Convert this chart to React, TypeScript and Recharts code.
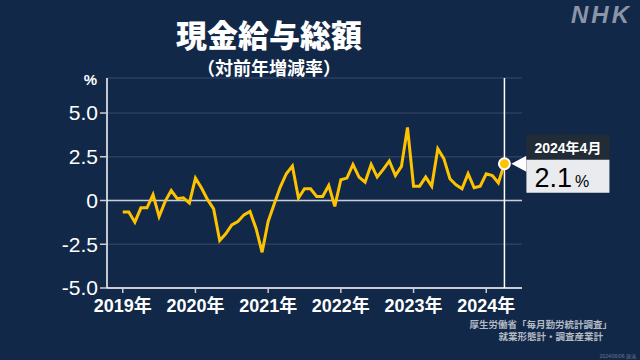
import { LineChart, Line, XAxis, YAxis, CartesianGrid, ReferenceLine, ReferenceDot } from 'recharts'

const yearLabels = ['2019年', '2020年', '2021年', '2022年', '2023年', '2024年']
const yearTicks = [0, 12, 24, 36, 48, 60]
const yTicks = [-5, -2.5, 0, 2.5, 5]

// 現金給与総額 対前年増減率 (%), 2019年1月〜2024年4月
const values = [
  -0.66, -0.66, -1.24, -0.42, -0.42, 0.34, -0.92, -0.05, 0.57, 0.1, 0.15, -0.15,
  1.28, 0.71, 0.05, -0.48, -2.29, -1.9, -1.39, -1.2, -0.82, -0.63, -1.6, -2.96,
  -1.2, -0.2, 0.77, 1.53, 1.97, 0.14, 0.67, 0.67, 0.23, 0.23, 0.86, -0.34,
  1.19, 1.28, 2.06, 1.34, 1.05, 2.06, 1.34, 1.78, 2.26, 1.43, 1.95, 4.17,
  0.82, 0.82, 1.34, 0.82, 2.96, 2.39, 1.24, 0.9, 0.67, 1.53, 0.73, 0.82,
  1.53, 1.43, 1.01, 2.1,
]
const latestLabel = '2024年4月'

const data = values.map((v, i) => ({ i, v }))
const last = data[data.length - 1]

const BG = '#122848'
const GOLD = '#FDC300'
const FONT = "'Liberation Sans', 'Noto Sans CJK JP', sans-serif"

const Callout = (props: any) => {
  const { cx, cy } = props
  const bx = cx + 22
  const w = 83
  return (
    <g>
      <polygon points={`${cx + 7},${cy} ${bx},${cy - 8} ${bx},${cy + 8}`} fill="#ffffff" />
      <rect x={bx} y={cy - 29} width={w} height={25} fill="#222c37" />
      <rect x={bx} y={cy - 4} width={w} height={33} fill="#e9ebef" />
      <text x={bx + w / 2} y={cy - 11} textAnchor="middle" fill="#fff" fontSize={14} fontWeight={700} fontFamily={FONT}>
        {latestLabel}
      </text>
      <text x={bx + 8} y={cy + 23} fill="#000" fontFamily={FONT}>
        <tspan fontSize={27}>{last.v.toFixed(1)}</tspan>
        <tspan fontSize={16} dx={3}>%</tspan>
      </text>
      <circle cx={cx} cy={cy} r={5.5} fill={GOLD} stroke="#ffffff" strokeWidth={2} />
    </g>
  )
}

export default function App() {
  return (
    <div style={{ position: 'fixed', left: 0, top: 0, width: 640, height: 360, background: BG, fontFamily: FONT, overflow: 'hidden' }}>
      <div style={{ position: 'absolute', left: 0, width: 538, top: 18, textAlign: 'center', color: '#fff', fontSize: 31, fontWeight: 900, lineHeight: '38px' }}>
        現金給与総額
      </div>
      <div style={{ position: 'absolute', left: 0, width: 538, top: 57, textAlign: 'center', color: '#fff', fontSize: 18, fontWeight: 700, lineHeight: '24px' }}>
        （対前年増減率）
      </div>
      <div style={{ position: 'absolute', right: 8, top: 1, color: '#8a95a8', fontSize: 24, fontWeight: 900, fontStyle: 'italic', letterSpacing: 3 }}>
        NHK
      </div>
      <div style={{ position: 'absolute', right: 543, top: 71, color: '#fff', fontSize: 15, fontWeight: 700 }}>%</div>
      <div style={{ position: 'absolute', right: 28, top: 319, color: '#b4bac4', fontSize: 9.5, fontWeight: 700, lineHeight: '12px', textAlign: 'right' }}>
        <div>厚生労働省「毎月勤労統計調査」</div>
        <div style={{ marginRight: 9 }}>就業形態計・調査産業計</div>
      </div>
      <div style={{ position: 'absolute', right: 4, top: 352, color: '#6a7890', fontSize: 5 }}>2024/06/06 放送</div>
      <LineChart width={640} height={360} data={data} margin={{ top: 78, right: 118, bottom: 42, left: 7 }} style={{ position: 'absolute', left: 0, top: 0 }}>
        <CartesianGrid vertical={false} stroke="#2b3f60" strokeWidth={1.5} />
        <XAxis
          type="number"
          dataKey="i"
          domain={[-2.6, 65.9]}
          ticks={yearTicks}
          tickFormatter={(t: number) => yearLabels[yearTicks.indexOf(t)]}
          height={30}
          tickSize={5}
          tickMargin={6}
          axisLine={{ stroke: '#ffffff', strokeWidth: 1.5 }}
          tickLine={{ stroke: '#c8cdd6', strokeWidth: 1.5 }}
          tick={{ fill: '#ffffff', fontSize: 18, fontWeight: 700, fontFamily: FONT }}
        />
        <YAxis
          type="number"
          domain={[-5, 7]}
          ticks={yTicks}
          tickFormatter={(t: number) => (t === 0 ? '0' : t.toFixed(1))}
          width={100}
          tickSize={7}
          tickMargin={2}
          axisLine={{ stroke: '#ffffff', strokeWidth: 1.5 }}
          tickLine={{ stroke: '#c8cdd6', strokeWidth: 1.5 }}
          tick={{ fill: '#ffffff', fontSize: 21, fontFamily: FONT }}
        />
        <ReferenceLine y={0} stroke="#c9ced6" strokeWidth={1.5} />
        <ReferenceLine x={last.i} stroke="#ffffff" strokeWidth={1.5} />
        <Line type="linear" dataKey="v" stroke={GOLD} strokeWidth={3} dot={false} strokeLinejoin="miter" isAnimationActive={false} />
        <ReferenceDot x={last.i} y={last.v} r={5} shape={Callout} />
      </LineChart>
    </div>
  )
}
